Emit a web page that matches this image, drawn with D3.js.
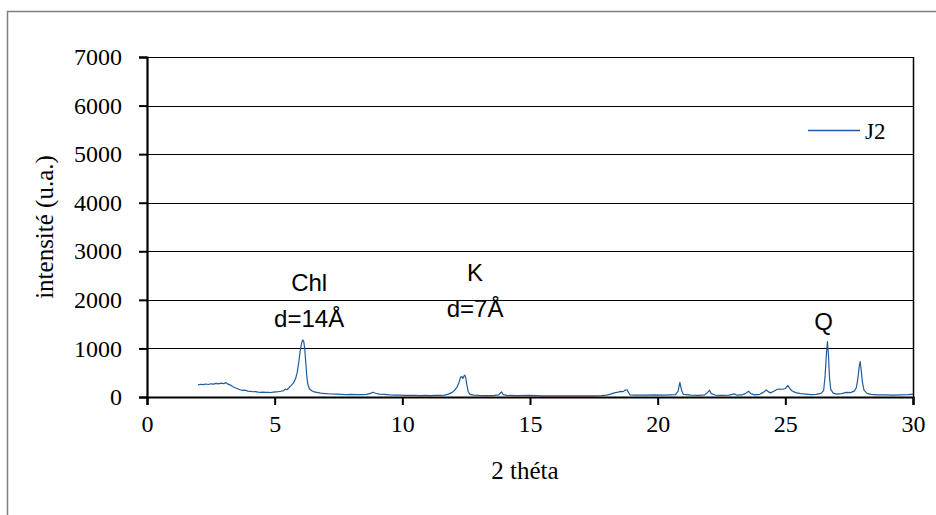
<!DOCTYPE html>
<html>
<head>
<meta charset="utf-8">
<script src="https://cdn.jsdelivr.net/npm/d3@7"></script>
<style>
  html, body { margin: 0; padding: 0; background: #ffffff; }
  svg { display: block; }
</style>
</head>
<body>
<svg id="chart" width="936" height="515"></svg>
<script>
// ---- data ----
const theta = [
  2.00, 2.10, 2.20, 2.30, 2.40, 2.50, 2.60, 2.70, 2.80, 2.90, 3.00, 3.10, 3.15, 3.25, 3.35, 3.45, 3.55, 3.65, 3.75, 3.85,
  3.95, 4.05, 4.15, 4.25, 4.35, 4.45, 4.55, 4.65, 4.75, 4.85, 4.95, 5.05, 5.15, 5.25, 5.35, 5.42, 5.48, 5.55, 5.65, 5.75,
  5.82, 5.88, 5.94, 6.00, 6.06, 6.10, 6.14, 6.18, 6.22, 6.26, 6.30, 6.36, 6.45, 6.55, 6.65, 6.80, 7.00, 7.20, 7.40, 7.60,
  7.80, 8.00, 8.20, 8.40, 8.60, 8.75, 8.85, 8.95, 9.10, 9.30, 9.50, 9.70, 9.90, 10.10, 10.30, 10.50, 10.70, 10.90, 11.10, 11.30,
  11.50, 11.65, 11.80, 11.95, 12.05, 12.15, 12.22, 12.28, 12.33, 12.37, 12.41, 12.45, 12.49, 12.53, 12.58, 12.65, 12.80, 13.00, 13.30, 13.60,
  13.78, 13.88, 13.96, 14.10, 14.50, 15.00, 15.50, 16.00, 16.50, 17.00, 17.50, 17.80, 18.00, 18.15, 18.30, 18.45, 18.55, 18.65, 18.72, 18.80,
  18.86, 18.92, 19.10, 19.50, 19.90, 20.20, 20.50, 20.70, 20.80, 20.87, 20.93, 21.00, 21.30, 21.60, 21.85, 21.97, 22.03, 22.10, 22.25, 22.50,
  22.80, 23.00, 23.08, 23.30, 23.45, 23.56, 23.65, 23.80, 24.00, 24.15, 24.25, 24.35, 24.42, 24.55, 24.68, 24.80, 24.90, 25.00, 25.10, 25.17,
  25.25, 25.40, 25.60, 25.80, 26.00, 26.20, 26.40, 26.50, 26.56, 26.61, 26.65, 26.69, 26.73, 26.78, 26.88, 27.00, 27.20, 27.40, 27.55, 27.70,
  27.78, 27.84, 27.90, 27.93, 27.97, 28.02, 28.08, 28.20, 28.35, 28.60, 28.90, 29.20, 29.50, 29.80, 30.00
];
const intensity = [
  250, 262, 255, 268, 258, 272, 265, 280, 270, 285, 275, 295, 270, 250, 215, 190, 170, 150, 135, 140,
  120, 115, 108, 112, 100, 96, 102, 94, 98, 92, 100, 105, 110, 118, 130, 165, 150, 185, 240, 300,
  380, 500, 700, 950, 1120, 1175, 1140, 980, 700, 420, 260, 170, 130, 105, 95, 80, 70, 62, 58, 55,
  50, 52, 48, 50, 55, 75, 98, 78, 60, 55, 45, 40, 38, 35, 33, 35, 30, 32, 30, 32,
  35, 40, 60, 95, 140, 210, 300, 410, 420, 380, 430, 450, 380, 240, 110, 55, 38, 32, 30, 32,
  45, 105, 50, 32, 28, 35, 25, 22, 24, 22, 25, 30, 40, 60, 85, 100, 115, 110, 140, 150,
  90, 45, 40, 38, 42, 40, 45, 50, 120, 300, 150, 55, 38, 35, 45, 100, 140, 70, 40, 35,
  38, 65, 40, 42, 75, 118, 70, 45, 55, 100, 145, 105, 85, 120, 160, 165, 160, 175, 240, 180,
  130, 90, 70, 60, 50, 55, 75, 130, 450, 900, 1140, 850, 400, 150, 80, 60, 70, 95, 90, 120,
  190, 380, 650, 730, 560, 300, 140, 75, 55, 42, 45, 40, 45, 50, 60
];
const seriesName = "J2";
const xTicks = [0, 5, 10, 15, 20, 25, 30];
const yTicks = [0, 1000, 2000, 3000, 4000, 5000, 6000, 7000];
const annotations = [
  { x: 6.35, y: 2180, lines: ["Chl", "d=14Å"] },
  { x: 12.85, y: 2380, lines: ["K", "d=7Å"] },
  { x: 26.5, y: 1380, lines: ["Q"] }
];

// ---- layout ----
const svg = d3.select("#chart");
const W = 936, H = 515;
const plot = { left: 147, right: 913, top: 57, bottom: 397 };

const x = d3.scaleLinear().domain([0, 30]).range([plot.left, plot.right]);
const y = d3.scaleLinear().domain([0, 7000]).range([plot.bottom, plot.top]);

svg.append("rect").attr("width", W).attr("height", H).attr("fill", "#ffffff");

// outer chart frame (extends past the visible area on right/bottom)
svg.append("path")
  .attr("d", `M7.5,${H} L7.5,11.5 L${W},11.5`)
  .attr("fill", "none").attr("stroke", "#7f7f7f").attr("stroke-width", 1.5);

// gridlines
svg.append("g").selectAll("line").data(yTicks.filter(d => d > 0)).join("line")
  .attr("x1", plot.left).attr("x2", plot.right)
  .attr("y1", d => Math.round(y(d)) + 0.5).attr("y2", d => Math.round(y(d)) + 0.5)
  .attr("stroke", "#000000").attr("stroke-width", 1);

// plot area right border
svg.append("line")
  .attr("x1", plot.right + 0.5).attr("x2", plot.right + 0.5)
  .attr("y1", plot.top).attr("y2", plot.bottom)
  .attr("stroke", "#000").attr("stroke-width", 1.5);

// series line
const line = d3.line().x((d, i) => x(theta[i])).y((d, i) => y(intensity[i]));
svg.append("path")
  .datum(intensity)
  .attr("d", line)
  .attr("fill", "none")
  .attr("stroke", "#1f5c9e")
  .attr("stroke-width", 1.2)
  .attr("stroke-linejoin", "round");

// axes
const serif = "'Liberation Serif', 'Times New Roman', serif";
const xAxis = svg.append("g")
  .attr("transform", `translate(0,${plot.bottom})`)
  .call(d3.axisBottom(x).tickValues(xTicks).tickSize(8).tickPadding(10).tickFormat(d3.format("d")));
const yAxis = svg.append("g")
  .attr("transform", `translate(${plot.left},0)`)
  .call(d3.axisLeft(y).tickValues(yTicks).tickSize(8).tickPadding(17).tickFormat(d3.format("d")));

[xAxis, yAxis].forEach(g => {
  g.select(".domain").attr("stroke", "#000").attr("stroke-width", 2.2);
  g.selectAll(".tick line").attr("stroke", "#000").attr("stroke-width", 2);
  g.selectAll(".tick text")
    .attr("font-family", serif).attr("font-size", 24).attr("fill", "#000");
});

// axis titles
svg.append("text")
  .attr("x", 525).attr("y", 479)
  .attr("text-anchor", "middle")
  .attr("font-family", serif).attr("font-size", 25)
  .text("2 théta");

svg.append("text")
  .attr("transform", `translate(53,${(plot.top + plot.bottom) / 2}) rotate(-90)`)
  .attr("text-anchor", "middle")
  .attr("font-family", serif).attr("font-size", 25)
  .text("intensité (u.a.)");

// legend
svg.append("line")
  .attr("x1", 808).attr("x2", 860).attr("y1", 130.5).attr("y2", 130.5)
  .attr("stroke", "#1f5c9e").attr("stroke-width", 1.3);
svg.append("text")
  .attr("x", 865).attr("y", 139)
  .attr("font-family", serif).attr("font-size", 23)
  .text(seriesName);

// peak annotations
const sans = "'Liberation Sans', Arial, sans-serif";
annotations.forEach(a => {
  const t = svg.append("text")
    .attr("x", x(a.x)).attr("y", y(a.y))
    .attr("text-anchor", "middle")
    .attr("font-family", sans).attr("font-size", 24).attr("fill", "#000");
  a.lines.forEach((s, i) => {
    t.append("tspan").attr("x", x(a.x)).attr("dy", i === 0 ? 0 : 36).text(s);
  });
});
</script>
</body>
</html>
